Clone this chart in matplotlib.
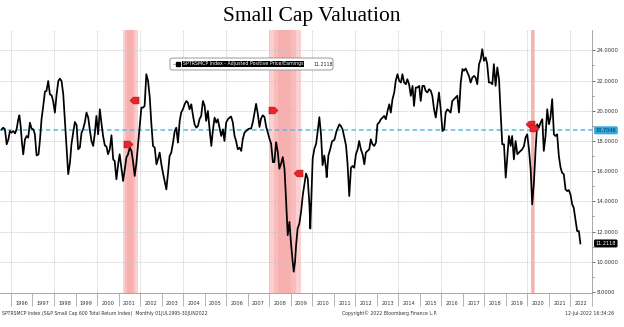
import numpy as np
import matplotlib.pyplot as plt
from matplotlib.patches import FancyBboxPatch
from matplotlib.transforms import blended_transform_factory

# Adjusted positive P/E of the S&P 600 total return index (decimal year, value)
dates_95_00 = [1995.57, 1995.64, 1995.72, 1995.80, 1995.88, 1995.95, 1996.03, 1996.11, 1996.19, 1996.26,
               1996.34, 1996.39, 1996.45, 1996.51, 1996.57, 1996.65, 1996.73, 1996.80, 1996.88, 1996.96,
               1997.04, 1997.11, 1997.19, 1997.28, 1997.35, 1997.42, 1997.50, 1997.58, 1997.65, 1997.73,
               1997.81, 1997.89, 1997.96, 1998.04, 1998.12, 1998.20, 1998.27, 1998.35, 1998.43, 1998.50,
               1998.58, 1998.66, 1998.74, 1998.81, 1998.89, 1998.97, 1999.05, 1999.12, 1999.20, 1999.28,
               1999.35, 1999.43, 1999.51, 1999.59, 1999.66, 1999.74, 1999.82, 1999.90, 1999.97, 2000.05,
               2000.13]
pe_95_00 = [18.77, 18.88, 18.77, 17.78, 18.11, 18.66, 18.55, 18.66, 18.50, 18.77,
            19.44, 19.70, 18.99, 17.89, 17.11, 18.11, 18.33, 18.22, 19.21, 18.81,
            18.77, 18.44, 17.04, 17.11, 18.11, 19.44, 20.33, 21.28, 21.31, 21.97,
            21.08, 21.02, 20.64, 19.88, 21.08, 21.97, 22.13, 21.97, 21.08, 19.44,
            17.45, 15.80, 16.55, 17.78, 18.55, 19.26, 19.04, 17.45, 17.56, 18.55,
            18.77, 19.22, 19.88, 19.55, 18.77, 18.00, 17.67, 18.55, 19.66, 18.44,
            20.10]

dates_00_04 = [2000.20, 2000.28, 2000.36, 2000.44, 2000.51, 2000.59, 2000.67, 2000.75, 2000.82, 2000.90,
               2000.98, 2001.05, 2001.13, 2001.21, 2001.29, 2001.36, 2001.44, 2001.52, 2001.60, 2001.67,
               2001.75, 2001.83, 2001.90, 2001.98, 2002.06, 2002.14, 2002.21, 2002.29, 2002.37, 2002.45,
               2002.52, 2002.60, 2002.68, 2002.76, 2002.83, 2002.91, 2002.99, 2003.06, 2003.14, 2003.22,
               2003.30, 2003.37, 2003.45, 2003.53, 2003.61, 2003.68, 2003.76, 2003.84, 2003.91, 2003.99,
               2004.07, 2004.15, 2004.22, 2004.30, 2004.38, 2004.46, 2004.53, 2004.61, 2004.69]
pe_00_04 = [19.22, 18.33, 17.71, 17.62, 17.12, 17.45, 18.38, 16.78, 16.67, 15.46,
            16.45, 17.12, 16.23, 15.35, 16.12, 16.89, 17.12, 17.56, 17.34, 16.67,
            15.68, 16.56, 17.67, 19.00, 20.21, 20.21, 20.32, 22.42, 21.98, 20.88,
            19.22, 17.67, 17.56, 16.45, 16.78, 17.23, 16.45, 15.90, 15.35, 14.79,
            15.90, 17.00, 17.23, 17.89, 18.66, 18.88, 17.89, 19.33, 19.88, 20.10,
            20.43, 20.65, 20.54, 20.10, 20.43, 19.66, 19.11, 18.88, 19.00]

dates_04_07 = [2004.76, 2004.84, 2004.92, 2005.00, 2005.07, 2005.15, 2005.23, 2005.31, 2005.38, 2005.46,
               2005.54, 2005.61, 2005.69, 2005.77, 2005.85, 2005.92, 2006.00, 2006.08, 2006.16, 2006.23,
               2006.31, 2006.39, 2006.46, 2006.54, 2006.62, 2006.70, 2006.77, 2006.85, 2006.93, 2007.01]
pe_04_07 = [19.44, 19.66, 20.65, 20.32, 19.33, 19.99, 18.77, 17.67, 18.66, 19.55,
            19.22, 19.44, 18.88, 18.33, 18.77, 18.00, 19.22, 19.44, 19.55, 19.62,
            19.22, 18.33, 18.00, 17.45, 17.56, 17.34, 18.11, 18.55, 18.66, 18.77]

dates_07_11 = [2007.08, 2007.16, 2007.24, 2007.31, 2007.39, 2007.47, 2007.55, 2007.62, 2007.70, 2007.78,
               2007.86, 2007.93, 2008.01, 2008.09, 2008.17, 2008.24, 2008.32, 2008.40, 2008.47, 2008.55,
               2008.63, 2008.71, 2008.78, 2008.86, 2008.94, 2009.02, 2009.09, 2009.14, 2009.20, 2009.25,
               2009.32, 2009.40, 2009.48, 2009.56, 2009.63, 2009.71, 2009.79, 2009.87, 2009.91, 2009.97,
               2010.02, 2010.10, 2010.18, 2010.25, 2010.33, 2010.41, 2010.48, 2010.56, 2010.64, 2010.67,
               2010.75, 2010.84, 2010.92, 2011.03, 2011.13, 2011.26, 2011.33, 2011.41, 2011.49, 2011.57]
pe_07_11 = [18.82, 18.82, 19.26, 19.80, 20.46, 19.80, 18.93, 19.48, 19.70, 19.59,
            18.93, 18.59, 18.15, 17.81, 16.60, 16.60, 17.92, 17.26, 16.16, 16.49,
            16.93, 16.16, 14.19, 11.76, 12.64, 11.10, 10.00, 9.34, 10.00, 11.10,
            12.20, 12.53, 13.30, 14.41, 15.07, 15.84, 15.51, 13.74, 12.20, 14.63,
            16.83, 17.49, 17.81, 18.59, 19.58, 18.37, 16.40, 17.04, 16.16, 15.60,
            17.04, 17.48, 17.97, 18.08, 18.66, 19.10, 18.99, 18.77, 18.22, 17.70]

dates_11_14 = [2011.64, 2011.72, 2011.80, 2011.87, 2011.95, 2012.03, 2012.11, 2012.18, 2012.26, 2012.34,
               2012.42, 2012.49, 2012.57, 2012.65, 2012.72, 2012.80, 2012.88, 2012.96, 2013.03, 2013.11,
               2013.19, 2013.27, 2013.34, 2013.42, 2013.50, 2013.58, 2013.65, 2013.73, 2013.81, 2013.88,
               2013.96, 2014.04]
pe_11_14 = [16.50, 14.35, 16.23, 16.34, 16.23, 17.12, 17.45, 18.00, 17.45, 17.12,
            16.45, 17.23, 17.34, 17.45, 18.11, 17.78, 17.67, 17.89, 19.11, 19.22,
            19.44, 19.55, 19.66, 19.44, 19.99, 20.43, 19.88, 20.77, 21.21, 21.98,
            22.42, 21.98]

dates_14_18 = [2014.12, 2014.19, 2014.27, 2014.35, 2014.42, 2014.50, 2014.58, 2014.66, 2014.73, 2014.81,
               2014.89, 2014.97, 2015.04, 2015.12, 2015.20, 2015.27, 2015.35, 2015.43, 2015.51, 2015.58,
               2015.66, 2015.74, 2015.82, 2015.89, 2015.97, 2016.05, 2016.13, 2016.20, 2016.28, 2016.36,
               2016.43, 2016.51, 2016.59, 2016.67, 2016.74, 2016.82, 2016.90, 2016.98, 2017.05, 2017.13,
               2017.21, 2017.28, 2017.36, 2017.44, 2017.52, 2017.59, 2017.67, 2017.75, 2017.83, 2017.90,
               2017.98, 2018.06, 2018.13, 2018.21, 2018.29, 2018.37]
pe_14_18 = [21.87, 22.42, 21.87, 21.76, 22.09, 21.76, 20.99, 21.65, 20.32, 21.54,
            21.54, 21.65, 20.65, 21.65, 21.65, 21.32, 21.21, 21.43, 21.32, 20.99,
            20.10, 19.55, 20.43, 21.21, 20.10, 18.66, 18.77, 19.88, 20.10, 19.99,
            19.88, 20.65, 20.77, 20.88, 20.99, 19.88, 21.87, 22.76, 22.65, 22.80,
            22.54, 22.31, 21.87, 22.20, 22.31, 22.20, 21.76, 23.09, 23.42, 24.08,
            23.31, 23.53, 23.09, 21.87, 21.87, 21.76]

last_value = 11.2118
mean_value = 18.7046

dates_18_22 = [2018.44, 2018.52, 2018.60, 2018.68, 2018.75, 2018.83, 2018.91, 2018.99, 2019.06, 2019.14,
               2019.22, 2019.29, 2019.37, 2019.45, 2019.53, 2019.60, 2019.68, 2019.76, 2019.84, 2019.91,
               2019.99, 2020.07, 2020.15, 2020.22, 2020.30, 2020.38, 2020.45, 2020.53, 2020.61, 2020.69,
               2020.76, 2020.84, 2020.92, 2021.00, 2021.07, 2021.15, 2021.23, 2021.30, 2021.38, 2021.46,
               2021.54, 2021.61, 2021.69, 2021.77, 2021.85, 2021.92, 2022.00, 2022.08, 2022.15, 2022.23,
               2022.31, 2022.39, 2022.46]
pe_18_22 = [23.09, 21.65, 22.87, 22.09, 19.99, 17.78, 17.78, 15.57, 16.89, 18.33,
            17.67, 18.33, 16.78, 18.00, 17.12, 17.23, 17.34, 17.45, 17.67, 18.22,
            18.44, 17.45, 16.12, 13.80, 15.23, 17.45, 19.11, 18.88, 19.22, 19.44,
            17.34, 18.33, 20.10, 19.11, 19.55, 20.77, 18.44, 18.33, 18.44, 17.00,
            16.23, 15.90, 15.79, 14.79, 14.68, 14.75, 14.46, 13.80, 13.58, 12.80,
            12.03, 12.03, last_value]

# recessions (start, end)
recessions = [(2001.19, 2001.89), (2007.98, 2009.48), (2020.15, 2020.34)]

# red event flags
flag_dates = [2001.72, 2001.44, 2008.16, 2009.32, 2020.14, 2020.29]
flag_values = [20.71, 17.78, 20.03, 15.90, 19.15, 18.88]
flag_dirs = ['left', 'right', 'right', 'left', 'left', 'right']

years = list(range(1996, 2023))

dates = dates_95_00 + dates_00_04 + dates_04_07 + dates_07_11 + dates_11_14 + dates_14_18 + dates_18_22
pe = pe_95_00 + pe_00_04 + pe_04_07 + pe_07_11 + pe_11_14 + pe_14_18 + pe_18_22

W, H = 624, 327
fig = plt.figure(figsize=(W / 100, H / 100), dpi=100)
ax = fig.add_axes([0, 34 / H, 592 / W, 263 / H])
ax.set_xlim(1995.49, 2022.94)
ax.set_ylim(7.93, 25.35)

# recession bands, a bit darker in the middle
for s, e in recessions:
    w = e - s
    ax.axvspan(s, e, color='#fbd0d0', lw=0, zorder=0)
    ax.axvspan(s + 0.15 * w, e - 0.15 * w, color='#f8bcbc', lw=0, zorder=0)
    ax.axvspan(s + 0.3 * w, e - 0.3 * w, color='#f6b0b0', lw=0, zorder=0)

# dotted grid
for v in range(10, 25, 2):
    ax.axhline(v, color='#c4c4c4', lw=0.6, ls=(0, (1, 1)), zorder=1)
for yr in range(1996, 2023, 2):
    ax.axvline(yr, color='#c4c4c4', lw=0.6, ls=(0, (1, 1)), zorder=1)

ax.axhline(mean_value, color='#56bde8', lw=1.1, ls=(0, (3, 2)), zorder=2)
ax.plot(dates, pe, color='black', lw=1.25, zorder=4)

right_flag = [(-1, -0.75), (0.25, -0.75), (1, 0), (0.25, 0.75), (-1, 0.75), (-1, -0.75)]
left_flag = [(-x, y) for x, y in right_flag]
for d, v, k in zip(flag_dates, flag_values, flag_dirs):
    ax.plot(d, v, marker=right_flag if k == 'right' else left_flag, ms=6.5,
            color='#e8262a', mec='#b01010', mew=0.4, zorder=5)

# right value axis
ax.yaxis.tick_right()
ax.set_yticks(range(8, 25, 2))
ax.set_yticklabels([f'{v:.4f}' for v in range(8, 25, 2)])
ax.set_yticks(range(9, 25, 2), minor=True)
ax.tick_params(axis='y', which='major', length=2.5, width=0.5, labelsize=3.8,
               pad=1, colors='#333333')
ax.tick_params(axis='y', which='minor', length=1.5, width=0.5, colors='#666666')

# year separators below the axis, labels centred in each year
ax.set_xticks(years + [2023])
ax.set_xticklabels([])
ax.set_xticks([y + 0.5 for y in years], minor=True)
ax.set_xticklabels([str(y) for y in years], minor=True)
ax.tick_params(axis='x', which='major', length=9, width=0.5, direction='out', color='#999999')
ax.tick_params(axis='x', which='minor', length=0, labelsize=3.6, pad=6.0, labelcolor='#333333')

for side in ['left', 'top']:
    ax.spines[side].set_visible(False)
for side in ['right', 'bottom']:
    ax.spines[side].set_color('#999999')
    ax.spines[side].set_linewidth(0.6)

# value tags on the right axis
tr = blended_transform_factory(ax.transAxes, ax.transData)
ax.text(1.006, mean_value, f'{mean_value:.4f}', transform=tr, fontsize=3.6, va='center',
        ha='left', color='#0d3550',
        bbox=dict(boxstyle='round,pad=0.3', fc='#2fa9de', ec='none'), zorder=6)
ax.text(1.006, last_value, f'{last_value:.4f}', transform=tr, fontsize=3.6, va='center',
        ha='left', color='white',
        bbox=dict(boxstyle='round,pad=0.3', fc='black', ec='none'), zorder=6)

# legend box
fig.patches.append(FancyBboxPatch((170 / W, 1 - 70 / H), 163 / W, 12 / H,
                                  boxstyle='round,pad=0,rounding_size=0.006',
                                  transform=fig.transFigure, fc='white', ec='#8a8a8a', lw=0.6))
fig.add_artist(plt.Line2D([173 / W, 181 / W], [1 - 64 / H, 1 - 64 / H], color='#999999',
                          lw=0.5, transform=fig.transFigure))
fig.add_artist(plt.Line2D([178 / W], [1 - 64 / H], marker='s', ms=2.6, color='black',
                          transform=fig.transFigure))
fig.text(183 / W, 1 - 64 / H, 'SPTRSMCP Index - Adjusted Positive Price/Earnings',
         fontsize=3.4, color='white', va='center', ha='left',
         bbox=dict(fc='black', ec='none', pad=0.6))
fig.text(313 / W, 1 - 64 / H, f'{last_value:.4f}', fontsize=3.4, color='#222222',
         va='center', ha='left')

fig.text(0.4992, 1 - 17 / H, 'Small Cap Valuation', family='Liberation Serif', fontsize=15.5,
         ha='center', va='center')

fig.text(2 / W, 1 - 313 / H,
         'SPTRSMCP Index (S&P Small Cap 600 Total Return Index)  Monthly 01JUL1995-30JUN2022',
         fontsize=3.3, color='#333333', va='center', ha='left')
fig.text(390 / W, 1 - 313 / H, 'Copyright\u00a9 2022 Bloomberg Finance L.P.',
         fontsize=3.3, color='#333333', va='center', ha='center')
fig.text(614 / W, 1 - 313 / H, '12-Jul-2022 16:34:26',
         fontsize=3.3, color='#333333', va='center', ha='right')

fig.savefig('out.png', dpi=100, facecolor='white')
